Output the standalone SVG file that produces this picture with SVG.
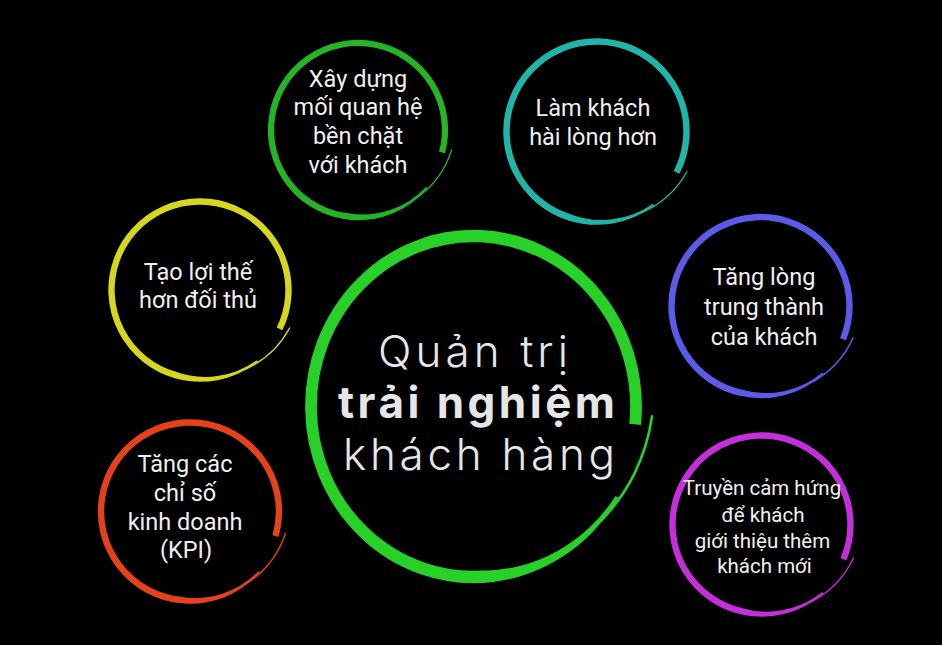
<svg xmlns="http://www.w3.org/2000/svg" xmlns:xlink="http://www.w3.org/1999/xlink" width="942" height="645" viewBox="0 0 942 645">
<style>
.t{font-family:Roboto,"Liberation Sans",sans-serif;font-size:23.5px;fill:#f0f0f0;text-anchor:middle}
.p{font-size:20.5px}
.m{font-family:Inter,"Open Sans",sans-serif;font-size:44px;fill:#e6e6e6;text-anchor:middle;font-weight:300}
.b{font-weight:700}
</style>
<defs>
<g id="ring">
<path d="M93.97,34.20 A100,100 0 1 0 -17.36,98.48" fill="none" stroke="currentColor" stroke-width="7.2"/>
<path d="M-19.77,101.69 A104,104 0 0 0 73.54,73.54 L72.12,72.12 A99,99 0 0 1 -18.39,94.63 Z" fill="currentColor"/>
<path d="M59.08,84.37 A106,106 0 0 0 105.19,32.16" fill="none" stroke="currentColor" stroke-width="1.6" stroke-linecap="round"/>
</g>
</defs>
<rect width="942" height="645" fill="#000"/>
<g id="main" color="#27d127">
<use href="#ring" xlink:href="#ring" transform="translate(473.5,406.5) scale(1.625,1.705) rotate(-14)"/>
<text class="m" x="473" y="367" textLength="190" lengthAdjust="spacing">Quản trị</text>
<text class="m b" x="476.5" y="418" textLength="277" lengthAdjust="spacing">trải nghiệm</text>
<text class="m" x="479" y="470" textLength="272" lengthAdjust="spacing">khách hàng</text>
</g>
<g id="node-relationship" color="#25b425">
<use href="#ring" xlink:href="#ring" transform="translate(358,130) scale(0.87) rotate(-5)"/>
<text class="t" x="358" y="87">Xây dựng</text>
<text class="t" x="358" y="115">mối quan hệ</text>
<text class="t" x="358" y="144">bền chặt</text>
<text class="t" x="358" y="173">với khách</text>
</g>
<g id="node-satisfaction" color="#20b5a6">
<use href="#ring" xlink:href="#ring" transform="translate(596.5,131.5) scale(0.9) rotate(7)"/>
<text class="t" x="593" y="116">Làm khách</text>
<text class="t" x="593" y="145">hài lòng hơn</text>
</g>
<g id="node-advantage" color="#d6d61e">
<use href="#ring" xlink:href="#ring" transform="translate(200,290) scale(0.885) rotate(6)"/>
<text class="t" x="198" y="280">Tạo lợi thế</text>
<text class="t" x="198" y="308">hơn đối thủ</text>
</g>
<g id="node-kpi" color="#e5421c">
<use href="#ring" xlink:href="#ring" transform="translate(190,511.5) scale(0.89) rotate(-4)"/>
<text class="t" x="185" y="472">Tăng các</text>
<text class="t" x="185" y="501">chỉ số</text>
<text class="t" x="185" y="530">kinh doanh</text>
<text class="t" x="186" y="558">(KPI)</text>
</g>
<g id="node-loyalty" color="#5b5be8">
<use href="#ring" xlink:href="#ring" transform="translate(760.5,306) scale(0.89) rotate(2)"/>
<text class="t" x="764" y="285">Tăng lòng</text>
<text class="t" x="764" y="315">trung thành</text>
<text class="t" x="764" y="345">của khách</text>
</g>
<g id="node-referral" color="#c32fd8">
<use href="#ring" xlink:href="#ring" transform="translate(761.5,524.5) scale(0.89) rotate(3)"/>
<text class="t p" x="762" y="495">Truyền cảm hứng</text>
<text class="t p" x="763" y="521.5">để khách</text>
<text class="t p" x="762.5" y="548">giới thiệu thêm</text>
<text class="t p" x="764.5" y="573">khách mới</text>
</g>
</svg>
